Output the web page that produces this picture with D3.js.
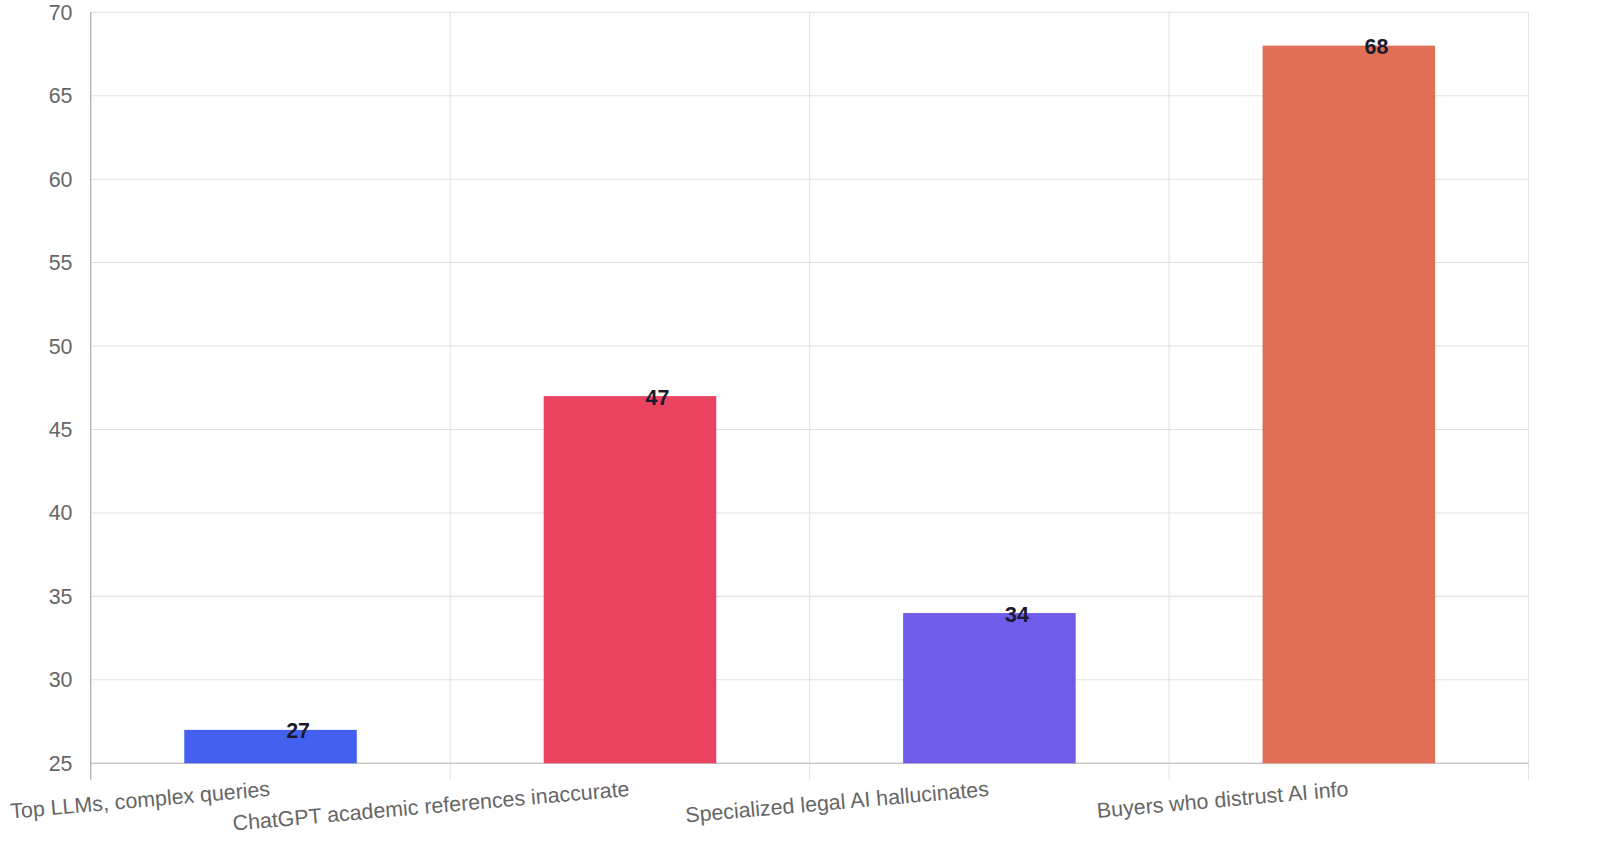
<!DOCTYPE html>
<html><head><meta charset="utf-8">
<script src="https://cdn.jsdelivr.net/npm/d3@7"></script>
<style>body{margin:0;background:#fff}svg{display:block;font-family:"Liberation Sans",Arial,sans-serif}</style>
</head><body><svg id="c" width="1600" height="853"></svg>
<script>
const categories = ["Top LLMs, complex queries","ChatGPT academic references inaccurate","Specialized legal AI hallucinates","Buyers who distrust AI info"];
const values = [27,47,34,68];
const colors = ["#4361EE","#E9435F","#6F5DE9","#E07055"];
const yTicks = [25,30,35,40,45,50,55,60,65,70];

const svg = d3.select("#c").append("g").attr("transform","scale(1.0204)");
const L=89,R=1498,T=12,B=748;
const FS=21;
const x = d3.scaleBand().domain(categories).range([L,R]).paddingInner(0).paddingOuter(0);
const y = d3.scaleLinear().domain([25,70]).range([B,T]);

svg.append("g").selectAll("line").data(yTicks).join("line")
  .attr("x1",L).attr("x2",R).attr("y1",d=>y(d)).attr("y2",d=>y(d))
  .attr("stroke","#e0e0e0").attr("stroke-width",1);
const vx = categories.map(c=>x(c)).concat([R]);
svg.append("g").selectAll("line").data(vx.slice(1)).join("line")
  .attr("x1",d=>d).attr("x2",d=>d).attr("y1",T).attr("y2",B+16)
  .attr("stroke","#e0e0e0");
svg.append("line").attr("x1",L).attr("x2",L).attr("y1",T).attr("y2",B+16).attr("stroke","#999");
svg.append("line").attr("x1",L).attr("x2",R).attr("y1",B).attr("y2",B).attr("stroke","#bbb");

svg.append("g").selectAll("text").data(yTicks).join("text")
  .attr("x",L-18).attr("y",d=>y(d)).attr("dy","0.35em").attr("text-anchor","end")
  .attr("font-size",FS).attr("fill","#666").text(d=>d);

const bw = x.bandwidth()*0.48;
svg.append("g").selectAll("rect").data(categories).join("rect")
  .attr("x",(d)=>x(d)+x.bandwidth()/2-bw/2).attr("width",bw)
  .attr("y",(d,i)=>y(values[i])).attr("height",(d,i)=>B-y(values[i]))
  .attr("fill",(d,i)=>colors[i]);

svg.append("g").selectAll("text").data(categories).join("text")
  .attr("x",d=>x(d)+x.bandwidth()/2+27).attr("y",(d,i)=>y(values[i])+1).attr("dy","0.35em")
  .attr("text-anchor","middle").attr("font-size",FS).attr("font-weight","bold").attr("fill","#1a1a2e")
  .text((d,i)=>values[i]);

svg.append("g").selectAll("text").data(categories).join("text")
  .attr("transform",d=>`translate(${x(d)+x.bandwidth()/2},${B+32}) rotate(-5)`)
  .attr("text-anchor","end").attr("font-size",FS).attr("fill","#666").text(d=>d);
</script></body></html>
